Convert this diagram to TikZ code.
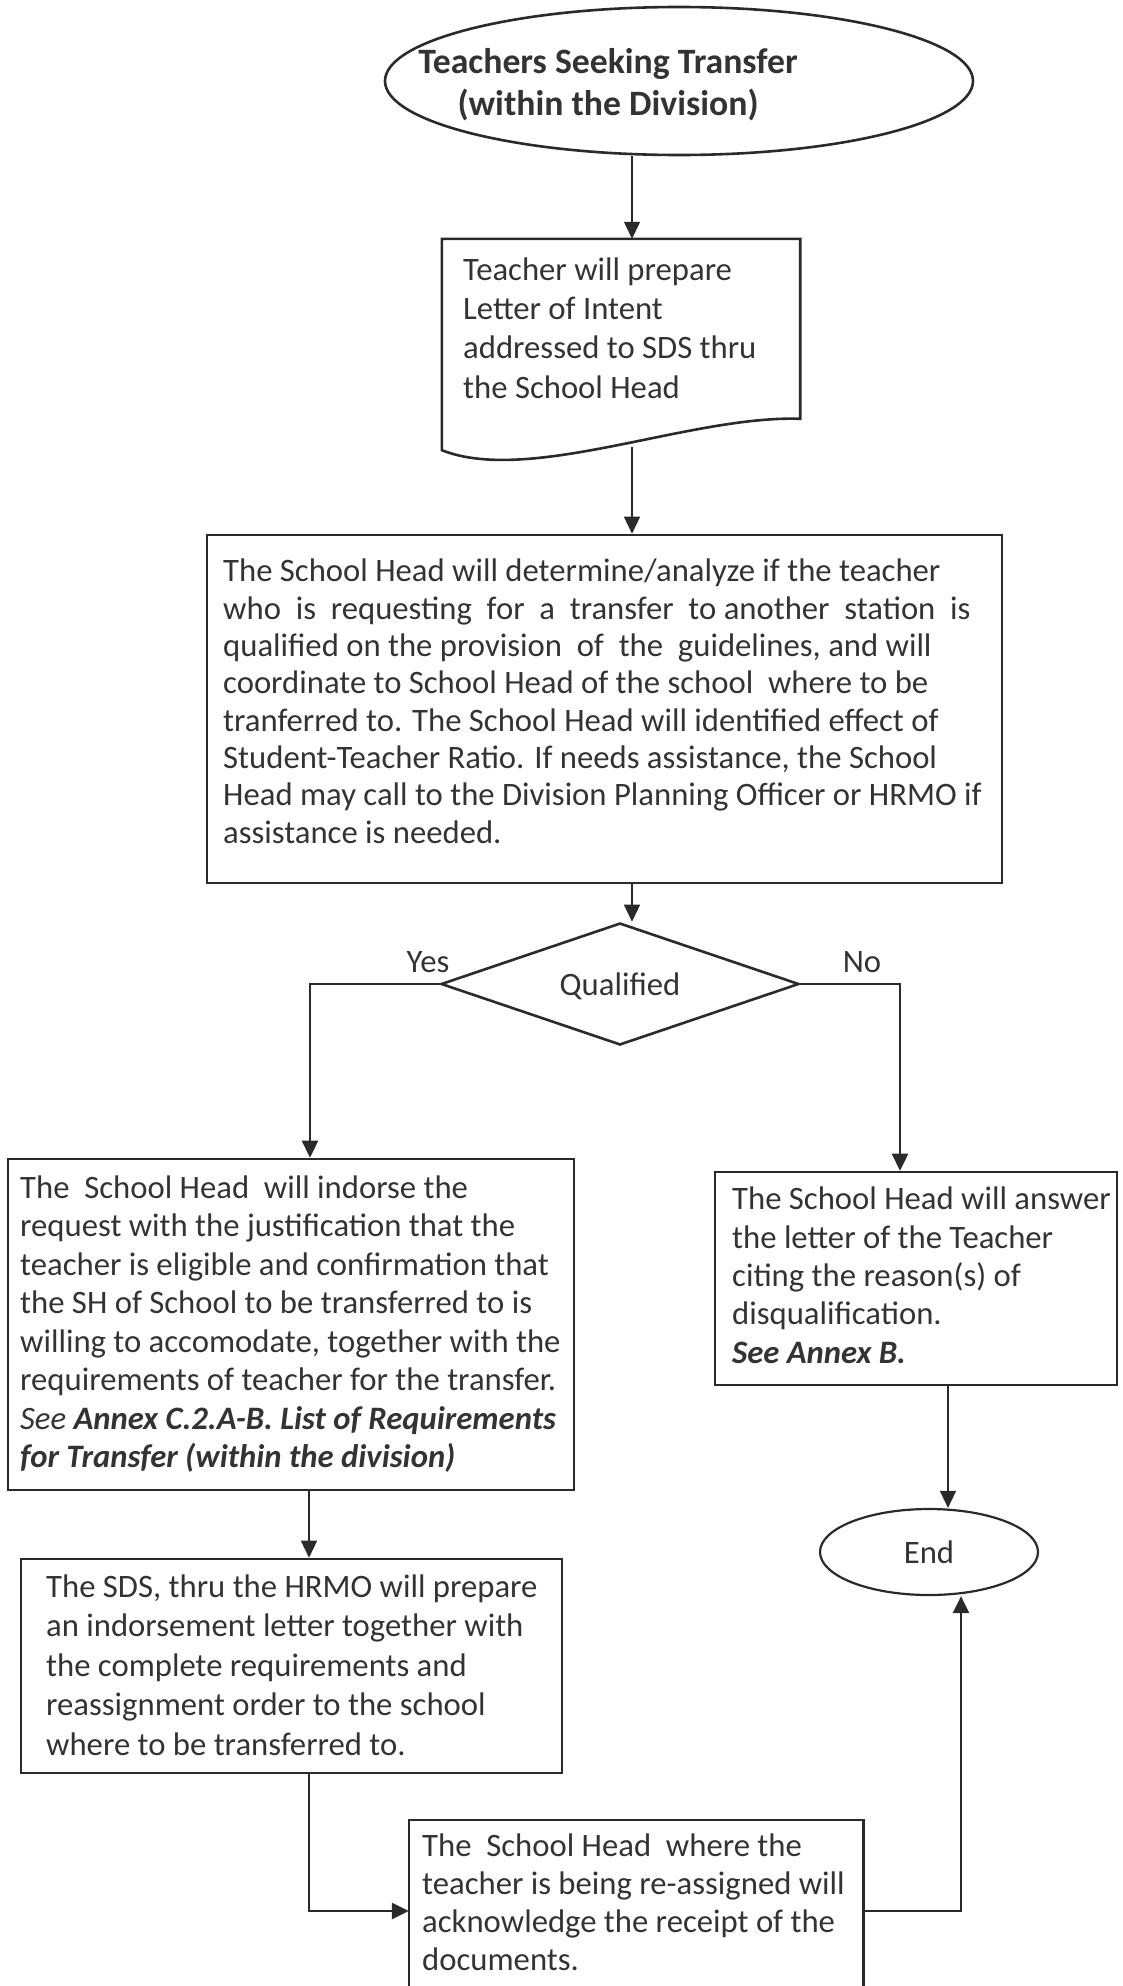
\documentclass[tikz,border=0pt]{standalone}
\usepackage{fontspec}
\setmainfont{Carlito}
\usetikzlibrary{shapes.geometric,arrows.meta,calc}
\definecolor{ink}{HTML}{2A2A2A}
\definecolor{txt}{HTML}{333333}
\begin{document}
\begin{tikzpicture}[x=1pt,y=-1pt,
  boxline/.style={draw=ink,line width=2.6pt,line join=miter},
  box/.style={rectangle,draw=ink,line width=2.6pt,inner sep=0pt},
  thinarrow/.style={draw=ink,line width=1.4pt,-{Triangle[length=17pt,width=16pt]}},
  thickarrow/.style={draw=ink,line width=2.6pt,-{Triangle[length=17pt,width=16pt]}},
  txtnode/.style={anchor=base west,align=left,inner sep=0pt,text=txt},
  lbl/.style={anchor=base,inner sep=0pt,text=txt,font=\fontsize{32.7}{38}\selectfont}
]
\useasboundingbox (0,0) rectangle (1122,1986);

% start terminator
\node[ellipse,draw=ink,line width=2.6pt,minimum width=588pt,minimum height=148pt,inner sep=0pt] (title) at (679,81) {};
\node[anchor=base,align=center,inner sep=0pt,text=txt,font=\bfseries\fontsize{35.7}{42}\selectfont] (titletext) at (608,115) {Teachers Seeking Transfer\\(within the Division)};

% document shape
\node[inner sep=0pt,minimum width=358pt,minimum height=211pt] (doc) at (621,344.5) {};
\draw[boxline] (doc.south west) -- (doc.north west) -- (doc.north east) -- ($(doc.north east)+(0,180)$)
  .. controls (690,415) and (530,485) .. (doc.south west) -- cycle;
\node[txtnode,font=\fontsize{32.7}{39.3}\selectfont] (doctext) at (463,398) {Teacher will prepare\\Letter of Intent\\addressed to SDS thru\\the School Head};

% big process box
\node[box,minimum width=795pt,minimum height=348pt] (big) at (604.5,709) {};
\node[txtnode,font=\fontsize{32.7}{37.3}\selectfont] (bigtext) at (223,843) {The School Head will determine/analyze if the teacher\\
who~ is~ requesting~ for~ a~ transfer~ to another~ station~ is\\
qualified on the provision~ of~ the~ guidelines, and will\\
coordinate to School Head of the school~ where to be\\
tranferred to. The School Head will identified effect of\\
Student-Teacher Ratio. If needs assistance, the School\\
Head may call to the Division Planning Officer or HRMO if\\
assistance is needed.};

% decision
\node[diamond,draw=ink,line width=2.6pt,minimum width=358pt,minimum height=122pt,inner sep=0pt] (qual) at (620,984) {};
\node[lbl] (qualtext) at (620,995) {Qualified};
\node[lbl] (yes) at (428,972) {Yes};
\node[lbl] (no) at (862,972) {No};

% yes branch box
\node[box,minimum width=566pt,minimum height=331pt] (indorse) at (291,1324.5) {};
\node[txtnode,font=\fontsize{32.7}{38.5}\selectfont] (indorsetext) at (20,1467.5) {The~ School Head~ will indorse the\\
request with the justification that the\\
teacher is eligible and confirmation that\\
the SH of School to be transferred to is\\
willing to accomodate, together with the\\
requirements of teacher for the transfer.\\
\textit{See} \textbf{\textit{Annex C.2.A-B. List of Requirements}}\\
\textbf{\textit{for Transfer (within the division)}}};

% no branch box
\node[box,minimum width=402pt,minimum height=213pt] (rbox) at (916,1278.5) {};
\node[txtnode,font=\fontsize{32.7}{38.3}\selectfont] (rboxtext) at (732,1363) {The School Head will answer\\
the letter of the Teacher\\
citing the reason(s) of\\
disqualification.\\
\textbf{\textit{See Annex B.}}};

% end terminator
\node[ellipse,draw=ink,line width=2.2pt,minimum width=218pt,minimum height=86pt,inner sep=0pt,text=txt,font=\fontsize{32.7}{38}\selectfont] (endnode) at (929,1552) {End};

% SDS box
\node[box,minimum width=541pt,minimum height=214pt] (sds) at (291.5,1666) {};
\node[txtnode,font=\fontsize{32.7}{39.5}\selectfont] (sdstext) at (46,1755) {The SDS, thru the HRMO will prepare\\
an indorsement letter together with\\
the complete requirements and\\
reassignment order to the school\\
where to be transferred to.};

% bottom box (runs off the page)
\node[inner sep=0pt,minimum width=454pt,minimum height=166pt] (bottom) at (636,1903) {};
\draw[boxline] (bottom.south west) -- (bottom.north west) -- (bottom.north east) -- (bottom.south east);
\node[txtnode,font=\fontsize{32.7}{38}\selectfont] (bottomtext) at (422,1970) {The~ School Head~ where the\\
teacher is being re-assigned will\\
acknowledge the receipt of the\\
documents.};

% helper coordinates
\coordinate (xA) at (632,0);
\coordinate (wave) at (632,447);
\coordinate (xYes) at (310,0);
\coordinate (xNo) at (900,0);
\coordinate (xSds) at (309,0);
\coordinate (xEnd) at (948,0);
\coordinate (xUp) at (961,0);
\coordinate (yLow) at (0,1911);

% connectors
\draw[thinarrow] (title.south -| xA) -- (doc.north -| xA);
\draw[thinarrow] (wave) -- (big.north -| wave);
\draw[thinarrow] (big.south -| xA) -- (qual.north -| xA);
\draw[thickarrow] (qual.west) -| (indorse.north -| xYes);
\draw[thickarrow] (qual.east) -| (rbox.north -| xNo);
\draw[thinarrow] (indorse.south -| xSds) -- (sds.north -| xSds);
\draw[thinarrow] (rbox.south -| xEnd) -- (endnode.north -| xEnd);
\draw[thickarrow] (sds.south -| xSds) |- (bottom.west |- yLow);
\draw[thickarrow] (bottom.east |- yLow) -| (endnode.south -| xUp);
\end{tikzpicture}
\end{document}
